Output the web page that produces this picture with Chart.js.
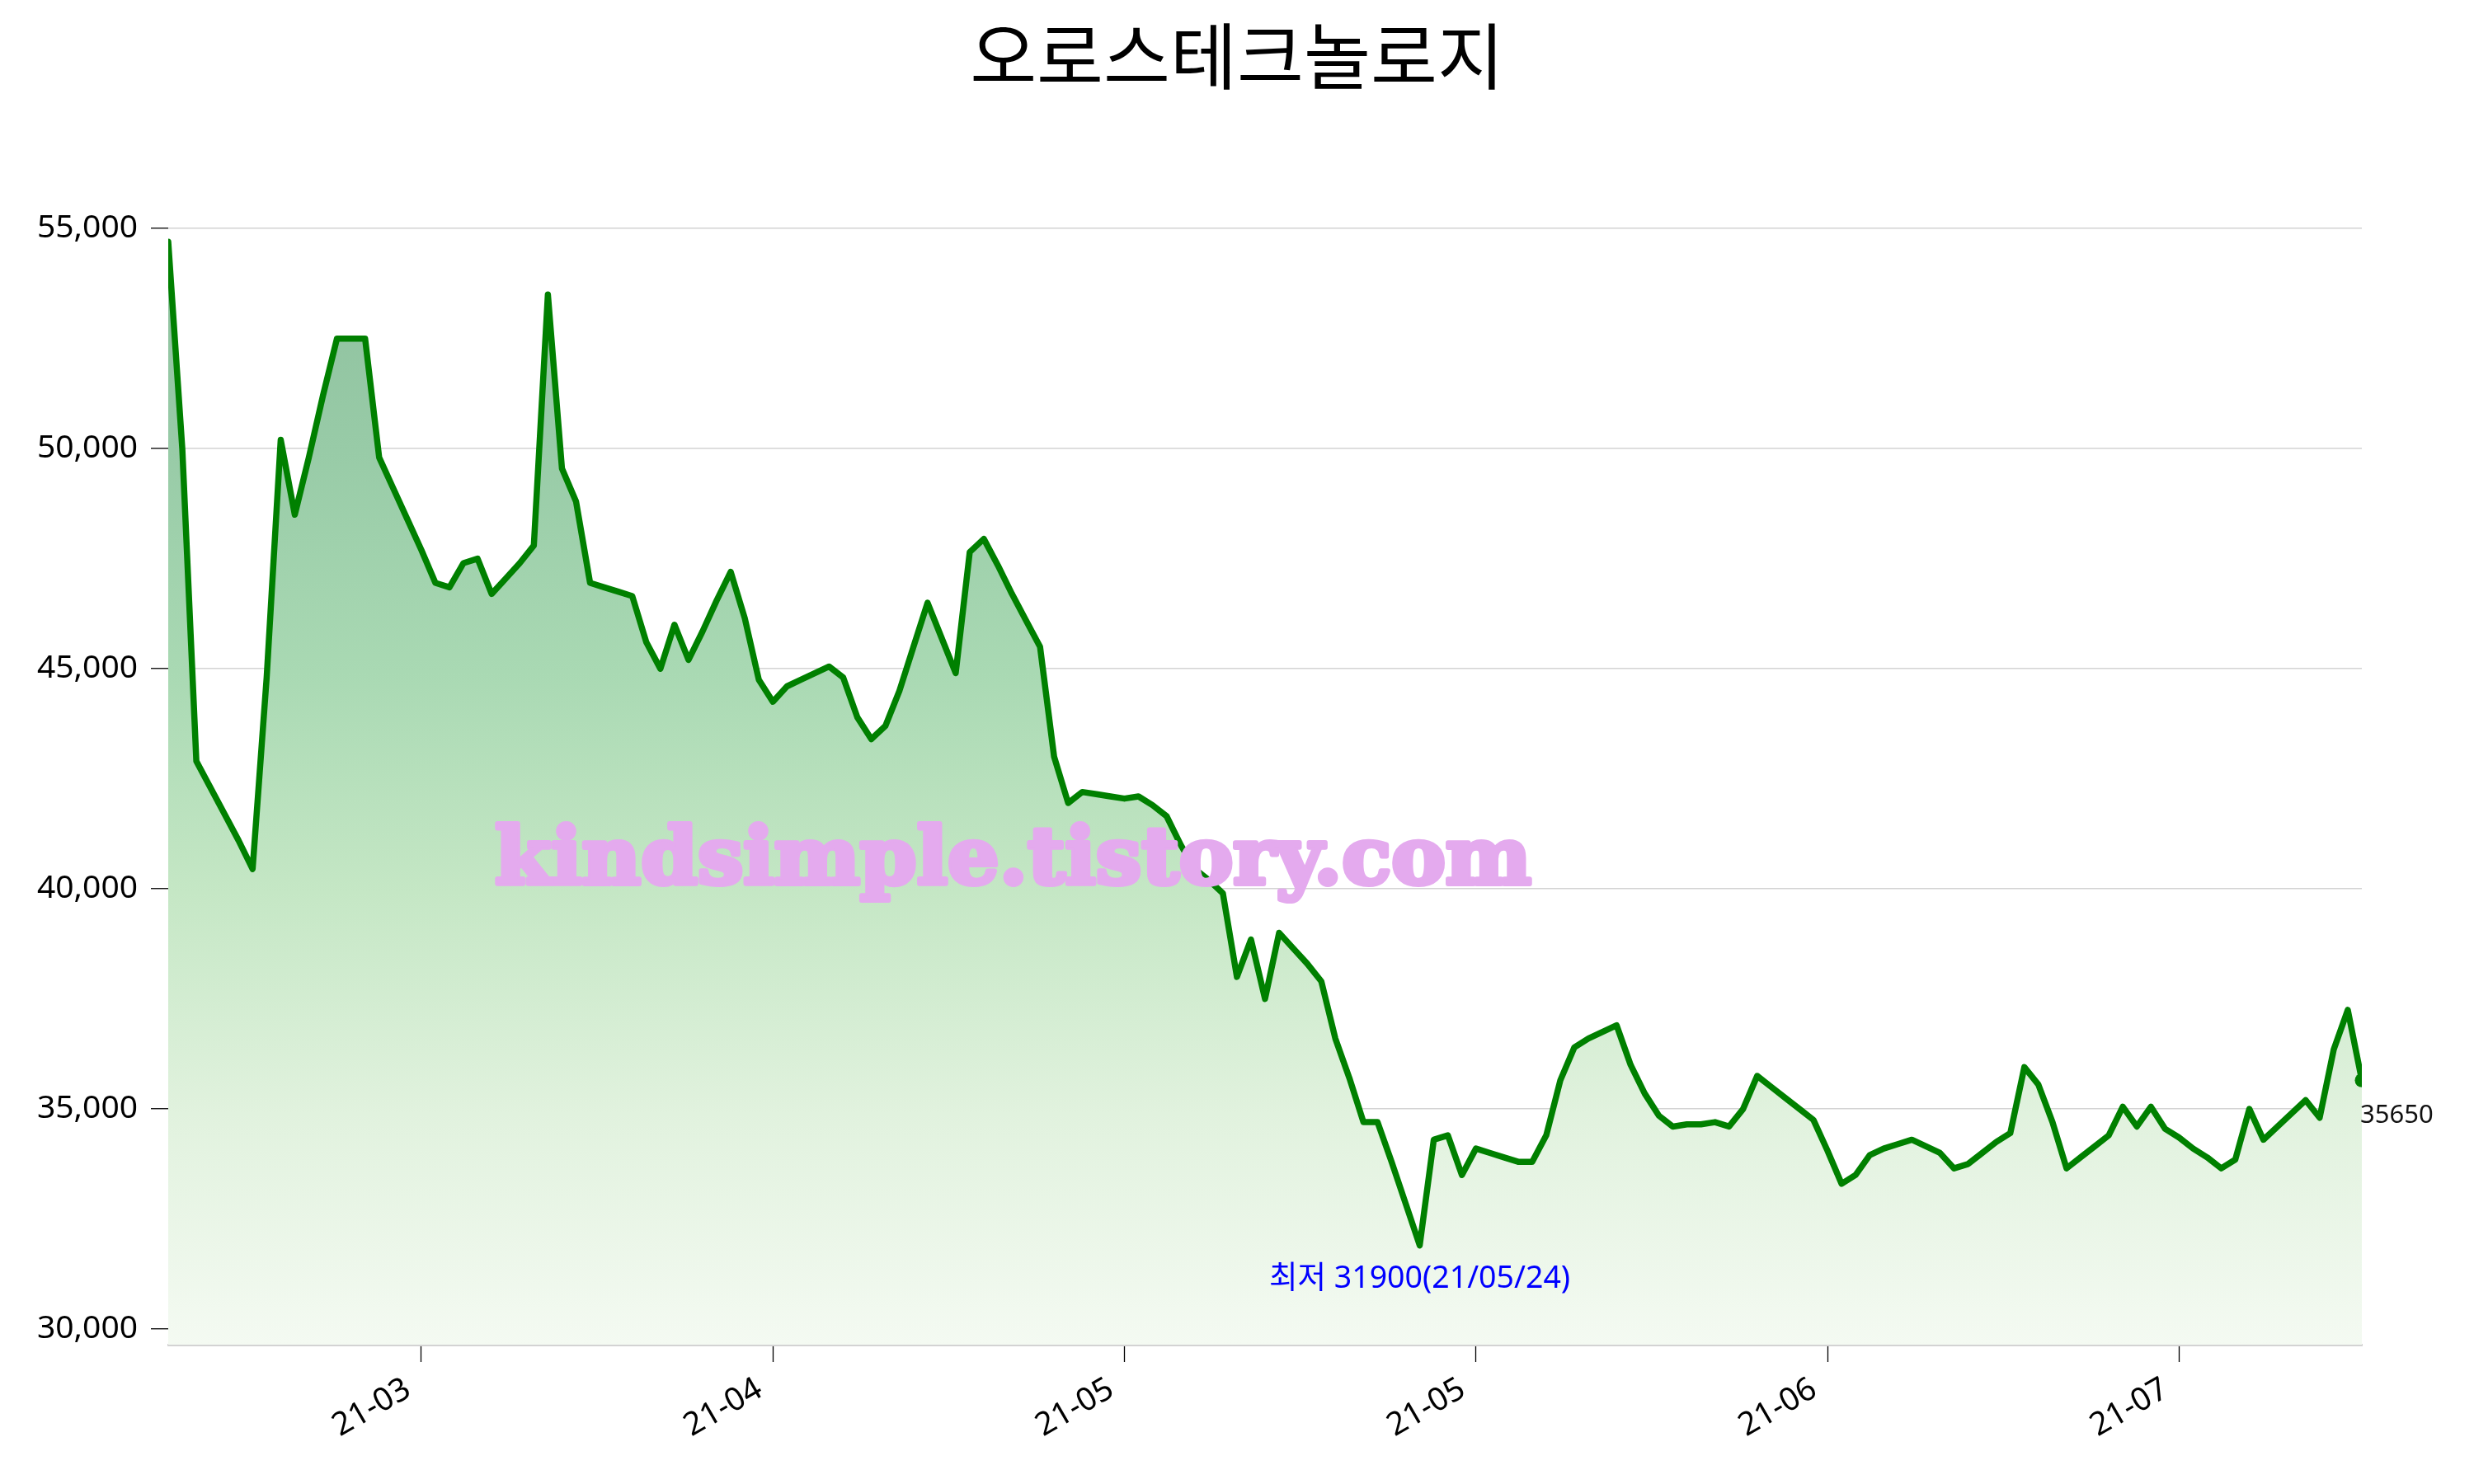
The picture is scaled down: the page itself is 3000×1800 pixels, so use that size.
<!DOCTYPE html>
<html>
<head>
<meta charset="utf-8">
<script src="https://cdn.jsdelivr.net/npm/chart.js@4"></script>
<style>
html, body { margin: 0; padding: 0; background: #ffffff; }
canvas { display: block; }
</style>
</head>
<body>
<canvas id="c" width="3000" height="1800" style="width:3000px;height:1800px"></canvas>
<script>
// ---------------- data ----------------
const chartTitle = '오로스테크놀로지';
const prices = [
  54700, 50000, 42900, 42300, 41700, 41100, 40450, 44800, 50200, 48500,
  49800, 51200, 52500, 52500, 52500, 49800, 49100, 48400, 47700, 46950,
  46850, 47400, 47500, 46700, 47050, 47400, 47800, 53500, 49550, 48800,
  46950, 46850, 46750, 46650, 45600, 45000, 46000, 45200, 45850, 46550,
  47200, 46150, 44750, 44250, 44600, 44750, 44900, 45050, 44800, 43900,
  43400, 43700, 44500, 45500, 46500, 45700, 44900, 47650, 47950, 47350,
  46700, 46100, 45500, 43000, 41950, 42200, 42150, 42100, 42050, 42100,
  41900, 41650, 41000, 40450, 40200, 39900, 38000, 38850, 37500, 39000,
  38650, 38300, 37900, 36600, 35700, 34700, 34700, 33800, 32850, 31900,
  34300, 34400, 33500, 34100, 34000, 33900, 33800, 33800, 34400, 35650,
  36400, 36600, 36750, 36900, 36000, 35350, 34850, 34600, 34650, 34650,
  34700, 34600, 35000, 35750, 35500, 35250, 35000, 34750, 34050, 33300,
  33500, 33950, 34100, 34200, 34300, 34150, 34000, 33650, 33750, 34000,
  34250, 34450, 35950, 35550, 34700, 33650, 33900, 34150, 34400, 35050,
  34600, 35050, 34550, 34350, 34100, 33900, 33650, 33850, 35000, 34300,
  34600, 34900, 35200, 34800, 36350, 37250, 35650
];
const tickPositions = [18, 43, 68, 93, 118, 143];
const tickLabels = ['21-03', '21-04', '21-05', '21-05', '21-06', '21-07'];
const yTicks = [30000, 35000, 40000, 45000, 50000, 55000];
const minDateLabel = '21/05/24';
const minPrefix = '최저';
const watermarkText = 'kindsimple.tistory.com';
const yMin = 29645;
const yMax = 55790;

// ---------------- helpers ----------------
const points = prices.map((v, i) => ({ x: i, y: v }));
const lastIndex = prices.length - 1;
const minValue = Math.min(...prices);
const minIndex = prices.indexOf(minValue);
const maxValue = Math.max(...prices);

Chart.defaults.font.family = '"Noto Sans", "Noto Sans CJK KR", sans-serif';
Chart.defaults.color = '#000000';

function areaGradient(context) {
  const chart = context.chart;
  const area = chart.chartArea;
  if (!area) return 'rgba(0,0,0,0)';
  const top = chart.scales.y.getPixelForValue(maxValue);
  const g = chart.ctx.createLinearGradient(0, top, 0, area.bottom);
  g.addColorStop(0.00, 'rgb(142,192,158)');
  g.addColorStop(0.19, 'rgb(152,203,167)');
  g.addColorStop(0.39, 'rgb(169,217,179)');
  g.addColorStop(0.59, 'rgb(197,231,197)');
  g.addColorStop(0.79, 'rgb(225,242,222)');
  g.addColorStop(1.00, 'rgb(244,250,242)');
  return g;
}

const overlay = {
  id: 'overlay',
  afterDatasetsDraw(chart) {
    const ctx = chart.ctx;
    const xs = chart.scales.x, ys = chart.scales.y;

    // watermark
    ctx.save();
    ctx.font = 'bold 96px "DejaVu Serif"';
    const w = ctx.measureText(watermarkText).width;
    ctx.translate(600, 1072);
    ctx.scale(1257 / w, 1);
    ctx.fillStyle = '#e4aaee';
    ctx.strokeStyle = '#e4aaee';
    ctx.lineWidth = 6;
    ctx.lineJoin = 'round';
    ctx.textAlign = 'left';
    ctx.textBaseline = 'alphabetic';
    ctx.strokeText(watermarkText, 0, 0);
    ctx.fillText(watermarkText, 0, 0);
    ctx.restore();

    // minimum annotation
    ctx.save();
    ctx.font = '37.5px "Noto Sans", "Noto Sans CJK KR"';
    ctx.fillStyle = '#0000ff';
    ctx.textAlign = 'center';
    ctx.textBaseline = 'alphabetic';
    ctx.fillText(minPrefix + ' ' + minValue + '(' + minDateLabel + ')',
      xs.getPixelForValue(minIndex), ys.getPixelForValue(minValue) + 51);
    ctx.restore();

    // last value label
    ctx.save();
    ctx.font = '31px "Noto Sans", "Noto Sans CJK KR"';
    ctx.fillStyle = '#111111';
    ctx.textAlign = 'left';
    ctx.textBaseline = 'alphabetic';
    ctx.fillText(String(prices[lastIndex]),
      xs.getPixelForValue(lastIndex) - 2, ys.getPixelForValue(prices[lastIndex]) + 52);
    ctx.restore();
  },
  afterDraw(chart) {
    const ctx = chart.ctx;
    ctx.save();
    ctx.font = '88px "Noto Sans CJK KR"';
    ctx.fillStyle = '#000000';
    ctx.textAlign = 'center';
    ctx.textBaseline = 'middle';
    ctx.fillText(chartTitle, 1500, 68);
    ctx.restore();
  }
};

new Chart(document.getElementById('c'), {
  type: 'line',
  data: {
    datasets: [{
      data: points,
      borderColor: '#008000',
      borderWidth: 7.5,
      borderJoinStyle: 'round',
      borderCapStyle: 'round',
      fill: 'start',
      backgroundColor: areaGradient,
      tension: 0,
      clip: 0,
      pointRadius: (c) => (c.dataIndex === lastIndex ? 8.5 : 0),
      pointBackgroundColor: '#008000',
      pointBorderWidth: 0,
      pointHoverRadius: 0
    }]
  },
  options: {
    responsive: false,
    animation: false,
    events: [],
    layout: { padding: { top: 235, right: 136, left: 0, bottom: 0 } },
    plugins: {
      legend: { display: false },
      tooltip: { enabled: false },
      title: { display: false }
    },
    scales: {
      x: {
        type: 'linear',
        min: 0,
        max: lastIndex,
        afterBuildTicks: (s) => { s.ticks = tickPositions.map(v => ({ value: v })); },
        afterFit: (s) => { s.height = 169; },
        ticks: {
          callback: (v) => tickLabels[tickPositions.indexOf(v)],
          minRotation: 30,
          maxRotation: 30,
          autoSkip: false,
          font: { size: 39 },
          color: '#000000',
          padding: 10,
          labelOffset: -16
        },
        grid: {
          drawOnChartArea: false,
          drawTicks: true,
          tickLength: 21,
          tickColor: '#000000',
          tickWidth: 1.3
        },
        border: { display: true, color: '#d3d3d3', width: 3 }
      },
      y: {
        min: yMin,
        max: yMax,
        afterBuildTicks: (s) => { s.ticks = yTicks.map(v => ({ value: v })); },
        afterFit: (s) => { s.width = 204; },
        ticks: {
          callback: (v) => v.toLocaleString('en-US'),
          font: { size: 39 },
          color: '#000000',
          padding: 16
        },
        grid: {
          color: '#d3d3d3',
          lineWidth: 1.5,
          drawTicks: true,
          tickLength: 21,
          tickColor: '#000000',
          tickWidth: 1.3
        },
        border: { display: false }
      }
    }
  },
  plugins: [overlay]
});
</script>
</body>
</html>
